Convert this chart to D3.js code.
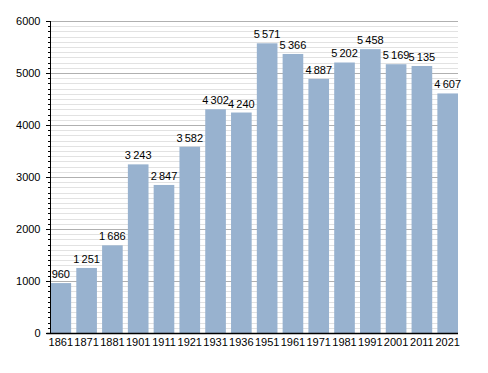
<!DOCTYPE html>
<html>
<head>
<meta charset="utf-8">
<script src="https://cdn.jsdelivr.net/npm/d3@7"></script>
<style>
  body { margin: 0; background: #fff; }
  text { font-family: "Liberation Sans", Arial, sans-serif; font-size: 11px; fill: #000; }
</style>
</head>
<body>
<div id="chart"></div>
<script>
// census years and population
const years = ["1861", "1871", "1881", "1901", "1911", "1921", "1931", "1936",
               "1951", "1961", "1971", "1981", "1991", "2001", "2011", "2021"];
const population = [960, 1251, 1686, 3243, 2847, 3582, 4302, 4240,
                    5571, 5366, 4887, 5202, 5458, 5169, 5135, 4607];
const yTicks = [0, 1000, 2000, 3000, 4000, 5000, 6000];

const width = 488, height = 373;
const plotL = 50.5, plotR = 458, plotT = 21, plotB = 333;

const svg = d3.select("#chart").append("svg")
    .attr("width", width)
    .attr("height", height);

const x = d3.scaleBand()
    .domain(years)
    .range([plotL, plotR])
    .paddingInner(0.2)
    .paddingOuter(0);

const y = d3.scaleLinear()
    .domain([0, 6000])
    .range([plotB, plotT]);

const py = d => Math.round(y(d)) + 0.5;

// grid, minor every 100
const minor = d3.range(100, 6000, 100).filter(v => v % 1000 !== 0);
svg.append("g").selectAll("line")
    .data(minor)
    .enter().append("line")
        .attr("x1", plotL).attr("x2", plotR)
        .attr("y1", py).attr("y2", py)
        .style("stroke", "#e2e2e2");

svg.append("g").selectAll("line")
    .data(yTicks.slice(1))
    .enter().append("line")
        .attr("x1", plotL).attr("x2", plotR)
        .attr("y1", py).attr("y2", py)
        .style("stroke", "#b0b0b0");

// bars
svg.append("g").selectAll("rect")
    .data(population)
    .enter().append("rect")
        .attr("x", (d, i) => x(years[i]))
        .attr("y", d => y(d))
        .attr("width", x.bandwidth())
        .attr("height", d => plotB - y(d))
        .style("fill", "#98b2cf");

// value labels with thin space as thousands separator
const fmt = d => {
    const s = String(d);
    return s.length > 3 ? s.slice(0, -3) + "\u2009" + s.slice(-3) : s;
};
svg.append("g").selectAll("text")
    .data(population)
    .enter().append("text")
        .attr("x", (d, i) => x(years[i]) + x.bandwidth() / 2)
        .attr("y", d => y(d) - 5)
        .style("text-anchor", "middle")
        .text(fmt);

// y axis
const yAxis = svg.append("g");
yAxis.append("line")
    .attr("x1", plotL).attr("x2", plotL)
    .attr("y1", plotT).attr("y2", plotB)
    .style("stroke", "#000");
yAxis.selectAll(".minor")
    .data(minor)
    .enter().append("line")
        .attr("class", "minor")
        .attr("x1", plotL - 2.5).attr("x2", plotL)
        .attr("y1", py).attr("y2", py)
        .style("stroke", "#000");
yAxis.selectAll(".major")
    .data(yTicks)
    .enter().append("line")
        .attr("class", "major")
        .attr("x1", plotL - 4.5).attr("x2", plotL)
        .attr("y1", py).attr("y2", py)
        .style("stroke", "#000");
yAxis.selectAll("text")
    .data(yTicks)
    .enter().append("text")
        .attr("x", plotL - 10)
        .attr("y", d => y(d) + 4)
        .style("text-anchor", "end")
        .text(d => d);

// x axis
svg.append("line")
    .attr("x1", plotL - 4).attr("x2", plotR)
    .attr("y1", plotB + 0.5).attr("y2", plotB + 0.5)
    .style("stroke", "#000")
    .style("stroke-width", 1.5);

svg.append("g").selectAll("text")
    .data(years)
    .enter().append("text")
        .attr("x", d => x(d) + x.bandwidth() / 2)
        .attr("y", plotB + 12.5)
        .style("text-anchor", "middle")
        .text(d => d);
</script>
</body>
</html>
